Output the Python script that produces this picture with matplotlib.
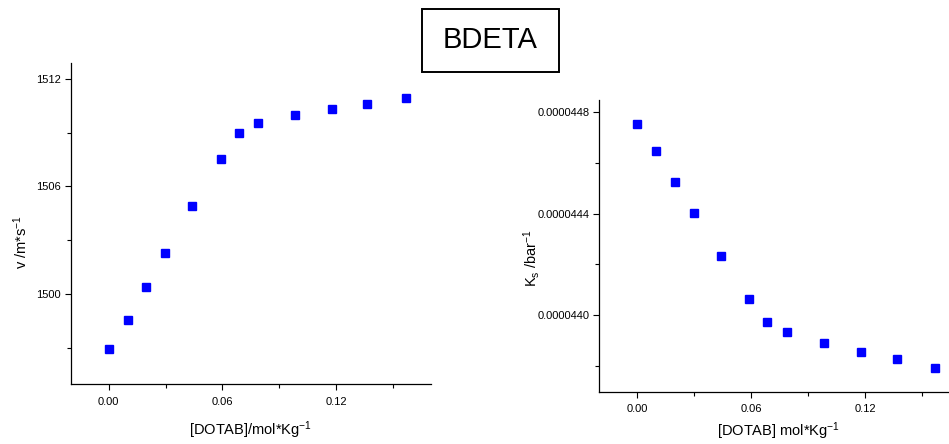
import matplotlib
matplotlib.use("Agg")
import matplotlib.pyplot as plt
from matplotlib.patches import Rectangle
from matplotlib.ticker import MultipleLocator, FormatStrFormatter

plt.rcParams["font.family"] = ["Liberation Sans", "DejaVu Sans"]
plt.rcParams["mathtext.fontset"] = "custom"
plt.rcParams["mathtext.rm"] = "Liberation Sans"
plt.rcParams["mathtext.it"] = "Liberation Sans"

# DOTAB concentration (mol/kg)
conc = [0.0, 0.010, 0.0197, 0.0296, 0.0442, 0.0590, 0.0685, 0.0790,
        0.0982, 0.1177, 0.1365, 0.1568]
# ultrasonic velocity (m/s)
velocity = [1496.95, 1498.54, 1500.39, 1502.30, 1504.91, 1507.55, 1509.01,
            1509.53, 1509.98, 1510.32, 1510.58, 1510.92]
# isentropic compressibility (1/bar)
kappa = [4.4755e-5, 4.4647e-5, 4.4525e-5, 4.4403e-5, 4.4234e-5, 4.4064e-5,
         4.3972e-5, 4.3933e-5, 4.3888e-5, 4.3853e-5, 4.3825e-5, 4.3790e-5]

title = "BDETA"

fig = plt.figure(figsize=(9.49, 4.44), dpi=100)
W, H = 949, 444


def px_axes(x0, y0, x1, y1):
    return fig.add_axes([x0 / W, 1 - y1 / H, (x1 - x0) / W, (y1 - y0) / H])


def style(ax):
    for s in ("top", "right"):
        ax.spines[s].set_visible(False)
    for s in ("left", "bottom"):
        ax.spines[s].set_linewidth(0.9)
    ax.tick_params(which="major", direction="out", length=4, width=0.8,
                   labelsize=8, pad=3)
    ax.tick_params(which="minor", direction="out", length=3, width=0.8)
    ax.xaxis.set_major_locator(MultipleLocator(0.06))
    ax.xaxis.set_minor_locator(MultipleLocator(0.03))
    ax.xaxis.set_major_formatter(FormatStrFormatter("%.2f"))
    ax.set_xlim(-0.02, 0.17)
    ax.xaxis.set_tick_params(pad=5)


# left panel: velocity
ax1 = px_axes(70.7, 62.7, 431, 384)
style(ax1)
ax1.plot(conc, velocity, "s", color="#0000ff", markersize=5.5, clip_on=False)
ax1.set_ylim(1494.97, 1512.91)
ax1.yaxis.set_major_locator(MultipleLocator(6))
ax1.yaxis.set_minor_locator(MultipleLocator(3))
ax1.yaxis.set_major_formatter(FormatStrFormatter("%d"))

# right panel: compressibility
ax2 = px_axes(599.3, 100, 960.3, 391.7)
style(ax2)
ax2.plot(conc, kappa, "s", color="#0000ff", markersize=5.5, clip_on=False)
ax2.set_ylim(4.3697e-5, 4.4849e-5)
ax2.yaxis.set_major_locator(MultipleLocator(4e-7))
ax2.yaxis.set_minor_locator(MultipleLocator(2e-7))
ax2.yaxis.set_major_formatter(FormatStrFormatter("%.7f"))

# axis titles
fig.text(250 / W, 1 - 430 / H, r"[DOTAB]/mol*Kg$^{-1}$", fontsize=10.5,
         ha="center", va="center")
fig.text(778 / W, 1 - 431 / H, r"[DOTAB] mol*Kg$^{-1}$", fontsize=10.5,
         ha="center", va="center")
fig.text(21 / W, 1 - 242 / H, r"v /m*s$^{-1}$", fontsize=10.5, rotation=90,
         ha="center", va="center")
fig.text(532 / W, 1 - 258 / H, r"K$_s$ /bar$^{-1}$", fontsize=10.5,
         rotation=90, ha="center", va="center")

# boxed title
fig.patches.append(Rectangle((421.7 / W, 1 - 71.7 / H), (559.3 - 421.7) / W,
                             (71.7 - 9.3) / H, transform=fig.transFigure,
                             fill=False, edgecolor="black", linewidth=1.4))
fig.text(490.5 / W, 1 - 40.5 / H, title, fontsize=21, ha="center",
         va="center")

fig.savefig("out.png", dpi=100)
